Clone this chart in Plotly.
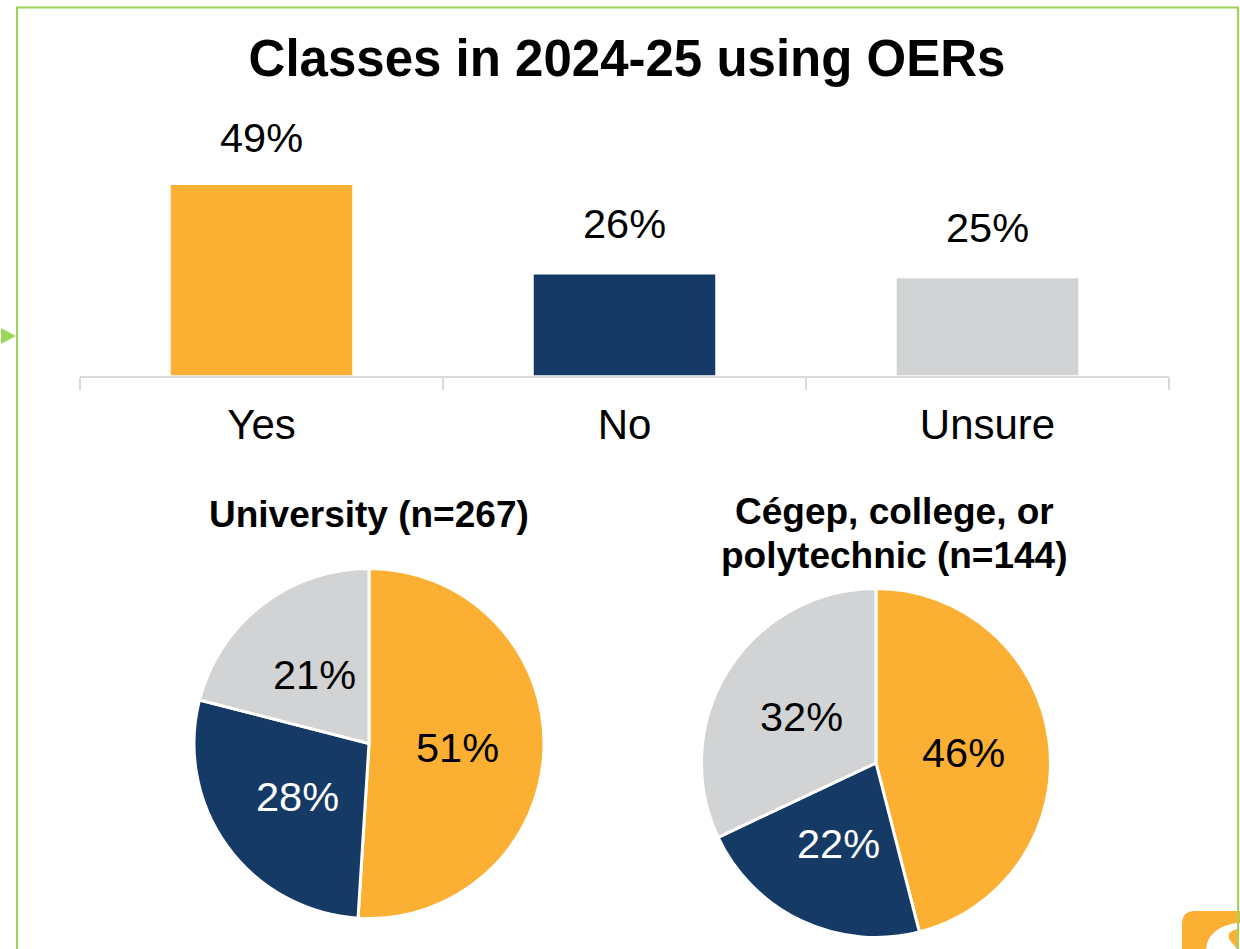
import math
import plotly.graph_objects as go

W, H = 1240, 949

title = "Classes in 2024-25 using OERs"
categories = ["Yes", "No", "Unsure"]
overall = [49, 26, 25]
university = [51, 28, 21]
college = [46, 22, 32]
uni_title = "University (n=267)"
col_title_lines = ["Cégep, college, or", "polytechnic (n=144)"]
colors = ["#FBB034", "#153A66", "#D1D3D4"]
label_colors = ["#000000", "#FFFFFF", "#000000"]
FONT = "Liberation Sans, Arial, sans-serif"
GREEN = "#9BD65A"


def px(x):
    return x / W


def py(y):
    return 1 - y / H


fig = go.Figure()

fig.add_trace(go.Bar(
    x=categories, y=overall, marker=dict(color=colors, line_width=0),
    width=0.5, showlegend=False, hoverinfo="skip",
))

annotations = [
    dict(x=c, y=v, xref="x", yref="y", text=f"{v}%", showarrow=False, yanchor="bottom",
         yshift=s, font=dict(family=FONT, size=41.5, color="#000000"))
    for c, v, s in zip(categories, overall, [22, 25, 25])
]

for vals, cx, cy, r in [(university, 369, 743.5, 175), (college, 876, 763, 174.5)]:
    fig.add_trace(go.Pie(
        labels=categories, values=vals, sort=False, direction="clockwise", rotation=0,
        marker=dict(colors=colors, line=dict(color="white", width=3)),
        textinfo="none",
        showlegend=False, hoverinfo="skip",
        domain=dict(x=[px(cx - r), px(cx + r)], y=[py(cy + r), py(cy - r)]),
    ))
    # slice labels sit at half the radius along each slice's middle angle
    total = sum(vals)
    cum = 0
    for v, col in zip(vals, label_colors):
        ang = 2 * math.pi * (cum + v / 2) / total
        cum += v
        annotations.append(dict(
            x=px(cx + 0.505 * r * math.sin(ang)), y=py(cy - 0.505 * r * math.cos(ang) + 1),
            xref="paper", yref="paper", xanchor="center", yanchor="middle",
            text=f"{v}%", showarrow=False,
            font=dict(family=FONT, size=41.5, color=col),
        ))

for text, x, y in [(uni_title, 369, 514), (col_title_lines[0], 894.5, 511), (col_title_lines[1], 894.5, 555)]:
    annotations.append(dict(
        x=px(x), y=py(y), xref="paper", yref="paper", xanchor="center", yanchor="middle",
        text=f"<b>{text}</b>", showarrow=False,
        font=dict(family=FONT, size=37, color="#000000"),
    ))

shapes = [
    dict(type="path", xref="paper", yref="paper",
         path=f"M {px(1240)} {py(911)} L {px(1195)} {py(911)} Q {px(1182)} {py(911)} {px(1182)} {py(924)} "
              f"L {px(1182)} {py(949)} L {px(1240)} {py(949)} Z",
         fillcolor="#FBB034", line_width=0, layer="below"),
    dict(type="path", xref="paper", yref="paper",
         path=f"M {px(1206)} {py(949)} Q {px(1208)} {py(928)} {px(1236)} {py(923)} L {px(1240)} {py(923)} "
              f"L {px(1240)} {py(949)} Z",
         fillcolor="#FFFFFF", line_width=0, layer="below"),
    dict(type="path", xref="paper", yref="paper",
         path=f"M {px(1237)} {py(929)} Q {px(1227)} {py(931)} {px(1229)} {py(939)} L {px(1237)} {py(949)} Z",
         fillcolor="#FBB034", line_width=0, layer="below"),
    dict(type="path", xref="paper", yref="paper",
         path=f"M {px(17)} {py(949)} L {px(17)} {py(7.5)} L {px(1238)} {py(7.5)} L {px(1238)} {py(949)}",
         line=dict(color=GREEN, width=2), layer="below"),
    dict(type="path", xref="paper", yref="paper",
         path=f"M {px(1)} {py(328)} L {px(16)} {py(336)} L {px(1)} {py(344)} Z",
         fillcolor=GREEN, line_width=0, layer="below"),
]

fig.update_layout(
    width=W, height=H, margin=dict(l=0, r=0, t=0, b=0), autosize=False,
    paper_bgcolor="white", plot_bgcolor="white",
    title=dict(text=f"<b>{title}</b>", x=px(627), y=py(58), xanchor="center", yanchor="middle",
               font=dict(family=FONT, size=51, color="#000000")),
    xaxis=dict(domain=[px(80), px(1169)], type="category", tickson="boundaries", ticks="outside",
               ticklen=12, tickwidth=2, tickcolor="#D9D9D9", showline=True, linecolor="#D9D9D9",
               linewidth=2, showgrid=False, zeroline=False, ticklabelstandoff=11,
               tickfont=dict(family=FONT, size=42, color="#000000")),
    yaxis=dict(domain=[py(375.5), py(99.5)], range=[0, 71], visible=False, showgrid=False, zeroline=False),
    annotations=annotations,
    shapes=shapes,
    bargap=0.5,
)

fig.write_html("out.html", config={"displayModeBar": False},
               post_script="document.body.style.margin='0';document.body.style.overflow='hidden';")
